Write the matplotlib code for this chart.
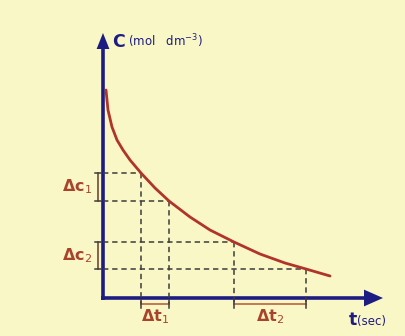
import matplotlib.pyplot as plt

# concentration-time curve (t in s, c in mol dm^-3, arbitrary units)
t_vals = [0.15, 0.25, 0.45, 0.7, 1.0, 1.35, 1.9, 2.6, 3.3, 4.35, 5.35, 6.55, 7.85, 9.1, 10.15, 11.35]
c_vals = [10.4, 9.4, 8.55, 7.9, 7.4, 6.9, 6.25, 5.5, 4.85, 4.05, 3.4, 2.8, 2.2, 1.75, 1.45, 1.1]

# the two intervals marked on the curve
t_marks = [1.9, 3.3, 6.55, 10.15]
c_marks = [6.25, 4.85, 2.8, 1.45]
dc_labels = ['1', '2']
dt_labels = ['1', '2']

bg = '#faf7c6'
navy = '#1c1c82'
red = '#b0342a'
brown = '#a8442e'

fig = plt.figure(figsize=(4.05, 3.36), dpi=100, facecolor=bg)
ax = fig.add_axes([0, 0, 1, 1])
ax.set_facecolor(bg)
ax.set_xlim(-5.15, 15.1)
ax.set_ylim(-1.9, 14.9)
ax.axis('off')

# axes with arrow heads
ax.plot([0, 0], [-0.1, 12.6], color=navy, lw=2.6, solid_capstyle='butt')
ax.plot([-0.1, 13.2], [0, 0], color=navy, lw=2.6, solid_capstyle='butt')
ax.fill([-0.32, 0.32, 0], [12.45, 12.45, 13.25], color=navy, lw=0)
ax.fill([13.05, 13.05, 14.0], [0.42, -0.42, 0], color=navy, lw=0)

# dashed guide lines
dash = dict(color='#3c3c3c', lw=1.1, ls=(0, (3.5, 2.5)))
for t, c in zip(t_marks, c_marks):
    ax.plot([0, t], [c, c], **dash)
    ax.plot([t, t], [c, -0.3], **dash)

# curve
ax.plot(t_vals, c_vals, color=red, lw=2, solid_capstyle='round', solid_joinstyle='round')

# delta c brackets
for i, lab in enumerate(dc_labels):
    c_hi, c_lo = c_marks[2 * i], c_marks[2 * i + 1]
    ax.plot([-0.25, -0.25], [c_lo, c_hi], color='#6a3a2a', lw=1.1)
    ax.plot([-0.4, -0.1], [c_hi, c_hi], color='#3c3c3c', lw=1.1)
    ax.plot([-0.4, -0.1], [c_lo, c_lo], color='#3c3c3c', lw=1.1)
    ax.text(-0.55, (c_hi + c_lo) / 2, r'$\mathbf{\Delta c}_{\mathregular{%s}}$' % lab, color=brown,
            fontsize=11.5, ha='right', va='center')

# delta t brackets
for i, lab in enumerate(dt_labels):
    t_lo, t_hi = t_marks[2 * i], t_marks[2 * i + 1]
    ax.plot([t_lo, t_hi], [-0.3, -0.3], color='#b8643c', lw=1.2)
    ax.plot([t_lo, t_lo], [-0.1, -0.5], color='#3c3c3c', lw=1.1)
    ax.plot([t_hi, t_hi], [-0.1, -0.5], color='#3c3c3c', lw=1.1)
    ax.text((t_lo + t_hi) / 2, -0.95, r'$\mathbf{\Delta t}_{\mathregular{%s}}$' % lab, color=brown,
            fontsize=11.5, ha='center', va='center')

# axis titles
ax.text(0.45, 12.8, 'C', color=navy, fontsize=12.5, fontweight='bold', va='center')
ax.text(1.25, 12.85, r'(mol   dm$^{-3}$)', color=navy, fontsize=8.5, va='center')
ax.text(12.3, -1.1, 't', color=navy, fontsize=12.5, fontweight='bold', va='center')
ax.text(12.7, -1.15, '(sec)', color=navy, fontsize=8.5, va='center')

fig.savefig('out.png', dpi=100, facecolor=bg)
